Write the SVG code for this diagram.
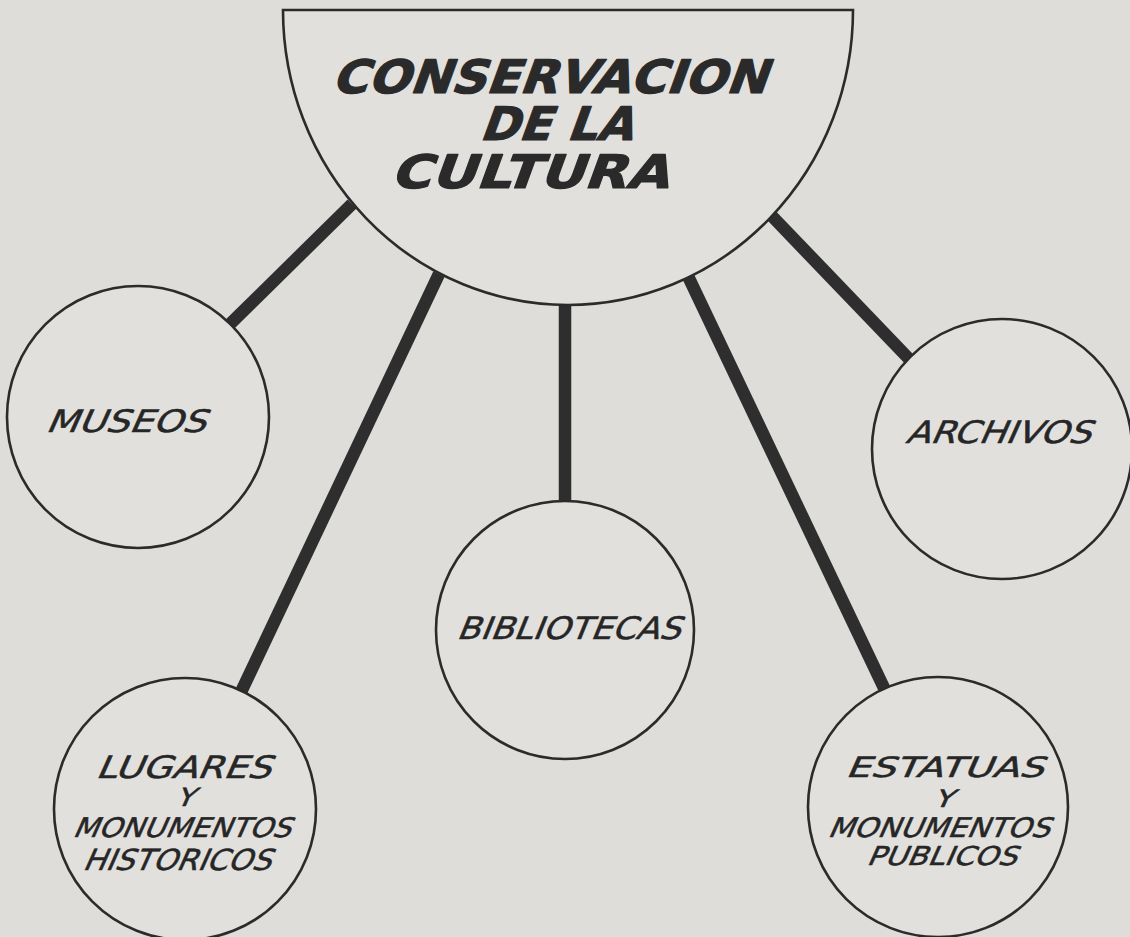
<svg xmlns="http://www.w3.org/2000/svg" width="1130" height="937" viewBox="0 0 1130 937">
  <style>
    .bg { fill: #deddda; }
    .node { fill: #e1e0dd; stroke: #2b2b2b; stroke-width: 2.6; }
    .link { stroke: #2e2e2e; stroke-width: 12.5; stroke-linecap: butt; }
    .title { font-family: "DejaVu Sans", "Liberation Sans", sans-serif; font-weight: bold; font-size: 46px; fill: #2a2a2a; stroke: #2a2a2a; stroke-width: 1.2; stroke-linejoin: round; }
    .label { font-family: "DejaVu Sans", "Liberation Sans", sans-serif; font-size: 31px; fill: #262626; stroke: #262626; stroke-width: 0.5; }
  </style>

  <rect class="bg" x="0" y="0" width="1130" height="937"/>

  <!-- thick bars from the half-disc to each circle (drawn first, shapes cover the ends) -->
  <g id="connectors">
    <line class="link" x1="352" y1="204" x2="228" y2="326"/>
    <line class="link" x1="439" y1="274" x2="241" y2="692"/>
    <line class="link" x1="565" y1="300" x2="565" y2="504"/>
    <line class="link" x1="686" y1="272" x2="885" y2="690"/>
    <line class="link" x1="768" y1="212" x2="912" y2="362"/>
  </g>

  <g id="conservacion">
    <path class="node" d="M283,10 H853 A285,295 0 0 1 283,10 Z"/>
    <text class="title" transform="translate(331,93) skewX(-20)" textLength="435" lengthAdjust="spacingAndGlyphs">CONSERVACION</text>
    <text class="title" transform="translate(479,140) skewX(-20)" textLength="153" lengthAdjust="spacingAndGlyphs">DE LA</text>
    <text class="title" transform="translate(390,188) skewX(-20)" textLength="278" lengthAdjust="spacingAndGlyphs">CULTURA</text>
  </g>

  <g id="museos">
    <circle class="node" cx="138" cy="417" r="131"/>
    <text class="label" transform="translate(45,432) skewX(-24)" textLength="160" lengthAdjust="spacingAndGlyphs">MUSEOS</text>
  </g>

  <g id="archivos">
    <circle class="node" cx="1002" cy="449" r="130"/>
    <text class="label" transform="translate(905,443) skewX(-24)" textLength="185" lengthAdjust="spacingAndGlyphs">ARCHIVOS</text>
  </g>

  <g id="bibliotecas">
    <circle class="node" cx="565" cy="630" r="129"/>
    <text class="label" transform="translate(456,639) skewX(-22)" textLength="224" lengthAdjust="spacingAndGlyphs">BIBLIOTECAS</text>
  </g>

  <g id="lugares">
    <circle class="node" cx="185" cy="809" r="131"/>
    <text class="label" style="font-size:31px" transform="translate(95,778) skewX(-24)" textLength="175" lengthAdjust="spacingAndGlyphs">LUGARES</text>
    <text class="label" style="font-size:25px" transform="translate(175,806) skewX(-24)" textLength="18" lengthAdjust="spacingAndGlyphs">Y</text>
    <text class="label" style="font-size:27px" transform="translate(72,837) skewX(-24)" textLength="218" lengthAdjust="spacingAndGlyphs">MONUMENTOS</text>
    <text class="label" style="font-size:29px" transform="translate(82,870) skewX(-24)" textLength="188" lengthAdjust="spacingAndGlyphs">HISTORICOS</text>
  </g>

  <g id="estatuas">
    <circle class="node" cx="938" cy="807" r="130"/>
    <text class="label" style="font-size:28px" transform="translate(845,777) skewX(-24)" textLength="198" lengthAdjust="spacingAndGlyphs">ESTATUAS</text>
    <text class="label" style="font-size:24px" transform="translate(933,807) skewX(-24)" textLength="19" lengthAdjust="spacingAndGlyphs">Y</text>
    <text class="label" style="font-size:27px" transform="translate(827,837) skewX(-24)" textLength="222" lengthAdjust="spacingAndGlyphs">MONUMENTOS</text>
    <text class="label" style="font-size:26px" transform="translate(866,865) skewX(-24)" textLength="150" lengthAdjust="spacingAndGlyphs">PUBLICOS</text>
  </g>
</svg>
